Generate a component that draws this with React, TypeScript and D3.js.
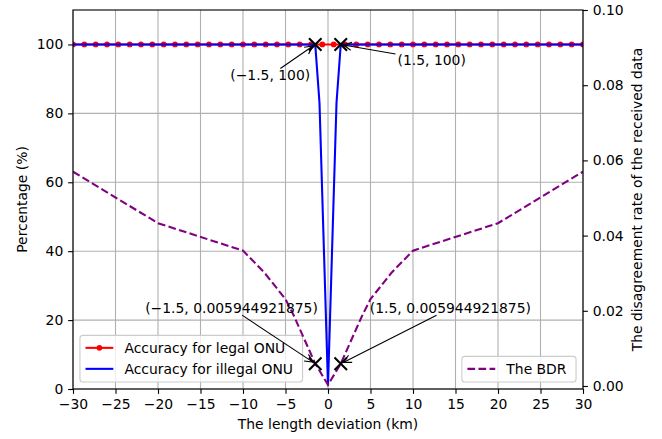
import React, { useEffect, useRef } from 'react';
import * as d3 from 'd3';

// length deviation (km) sampled for the legal ONU curve
const legalX = [
  -30, -28.67, -27.33, -26, -24.67, -23.33, -22, -20.67, -19.33, -18, -16.67, -15.33,
  -14, -12.67, -11.33, -10, -8.67, -7.33, -6, -4.67, -3.33, -2, -0.67, 0.67, 2, 3.33,
  4.67, 6, 7.33, 8.67, 10, 11.33, 12.67, 14, 15.33, 16.67, 18, 19.33, 20.67, 22, 23.33,
  24.67, 26, 27.33, 28.67, 30,
];
const legalAcc = [
  100, 100, 100, 100, 100, 100, 100, 100, 100, 100, 100, 100, 100, 100, 100, 100,
  100, 100, 100, 100, 100, 100, 100, 100, 100, 100, 100, 100, 100, 100, 100, 100,
  100, 100, 100, 100, 100, 100, 100, 100, 100, 100, 100, 100, 100, 100,
];

const illegalX = [-30, -20, -10, -5, -1.5, -1, 0, 1, 1.5, 5, 10, 20, 30];
const illegalAcc = [100, 100, 100, 100, 100, 83, 1, 83, 100, 100, 100, 100, 100];

const bdrX = [-30, -20, -10, -7.5, -5, -4, -1.5, 0, 1.5, 4, 5, 7.5, 10, 20, 30];
const bdrVal = [
  0.057, 0.0433, 0.036, 0.0302, 0.0231, 0.0186, 0.005944921875, 0.0003,
  0.005944921875, 0.0186, 0.0231, 0.0302, 0.036, 0.0433, 0.057,
];

const xTicks = [-30, -25, -20, -15, -10, -5, 0, 5, 10, 15, 20, 25, 30];
const leftTicks = [0, 20, 40, 60, 80, 100];
const rightTicks = [0, 0.02, 0.04, 0.06, 0.08, 0.1];

// annotated points, text position in data units of the same axis
const notes = [
  { x: -1.5, y: 100, tx: -6.8, ty: 91, label: '(−1.5, 100)', axis: 'left' },
  { x: 1.5, y: 100, tx: 12.2, ty: 95.4, label: '(1.5, 100)', axis: 'left' },
  { x: -1.5, y: 0.005944921875, tx: -11.35, ty: 0.0207, label: '(−1.5, 0.005944921875)', axis: 'right' },
  { x: 1.5, y: 0.005944921875, tx: 14.4, ty: 0.0207, label: '(1.5, 0.005944921875)', axis: 'right' },
];

const W = 662;
const H = 439;
const FONT = '"DejaVu Sans", sans-serif';
const FS = 13.9;
const pt = 100 / 72;

const Chart = () => {
  const ref = useRef<SVGSVGElement>(null);

  useEffect(() => {
    document.body.style.margin = '0';
    const svg = d3.select(ref.current);
    svg.selectAll('*').remove();

    const left = 73, right = 583, top = 10, bottom = 389;

    const x = d3.scaleLinear().domain([-30, 30]).range([left, right]);
    const yL = d3.scaleLinear().domain([0, 110]).range([bottom, top]);
    const yR = d3.scaleLinear().domain([-0.0008, 0.1]).range([bottom, top]);

    svg.append('rect').attr('width', W).attr('height', H).attr('fill', '#fff');

    const clipId = 'plot-clip';
    svg.append('clipPath').attr('id', clipId)
      .append('rect').attr('x', left).attr('y', top)
      .attr('width', right - left).attr('height', bottom - top);

    // gridlines
    const grid = svg.append('g').attr('stroke', '#b0b0b0').attr('stroke-width', 0.8 * pt);
    xTicks.forEach((t) => {
      grid.append('line').attr('x1', x(t)).attr('x2', x(t)).attr('y1', top).attr('y2', bottom);
    });
    leftTicks.forEach((t) => {
      grid.append('line').attr('x1', left).attr('x2', right).attr('y1', yL(t)).attr('y2', yL(t));
    });

    const minus = (d: number) => (d < 0 ? '−' + Math.abs(d) : String(d));

    // axes
    const styleAxis = (g: any) => {
      g.select('.domain').remove();
      g.selectAll('line').attr('stroke', '#000').attr('stroke-width', 0.8 * pt);
      g.selectAll('text').attr('font-family', FONT).attr('font-size', FS).attr('fill', '#000');
    };
    svg.append('g').attr('transform', `translate(0,${bottom})`)
      .call(d3.axisBottom(x).tickValues(xTicks).tickSize(3.5 * pt).tickPadding(3.5 * pt).tickFormat((d: any) => minus(d)))
      .call(styleAxis);
    svg.append('g').attr('transform', `translate(${left},0)`)
      .call(d3.axisLeft(yL).tickValues(leftTicks).tickSize(3.5 * pt).tickPadding(3.5 * pt))
      .call(styleAxis);
    svg.append('g').attr('transform', `translate(${right},0)`)
      .call(d3.axisRight(yR).tickValues(rightTicks).tickSize(3.5 * pt).tickPadding(3.5 * pt).tickFormat(d3.format('.2f')))
      .call(styleAxis);

    const plot = svg.append('g').attr('clip-path', `url(#${clipId})`);

    // legal ONU
    const lineL = d3.line<number>().x((d, i) => x(legalX[i])).y((d) => yL(d));
    plot.append('path').datum(legalAcc).attr('d', lineL)
      .attr('fill', 'none').attr('stroke', '#ff0000').attr('stroke-width', 1.5 * pt);
    plot.selectAll('.dot').data(legalAcc).enter().append('circle')
      .attr('cx', (d, i) => x(legalX[i])).attr('cy', (d) => yL(d)).attr('r', 2.9).attr('fill', '#ff0000');

    // illegal ONU
    const lineI = d3.line<number>().x((d, i) => x(illegalX[i])).y((d) => yL(d));
    plot.append('path').datum(illegalAcc).attr('d', lineI)
      .attr('fill', 'none').attr('stroke', '#0000ff').attr('stroke-width', 1.5 * pt);

    const drawX = (g: any, px: number, py: number) => {
      const s = 4.5 * pt;
      g.append('path')
        .attr('d', `M${px - s},${py - s}L${px + s},${py + s}M${px - s},${py + s}L${px + s},${py - s}`)
        .attr('stroke', '#000').attr('stroke-width', 1.5 * pt).attr('fill', 'none');
    };

    const drawNote = (n: any) => {
      const sc = n.axis === 'left' ? yL : yR;
      const px = x(n.x), py = sc(n.y);
      drawX(svg, px, py);
      const tx = x(n.tx), ty = sc(n.ty);
      const txt = svg.append('text').attr('x', tx).attr('y', ty).attr('dy', '0.35em')
        .attr('text-anchor', 'middle').attr('font-family', FONT).attr('font-size', FS)
        .text(n.label);
      const bb = (txt.node() as SVGTextElement).getBBox();
      // start arrow where the line from the text centre leaves its box
      const hw = bb.width / 2 + 2, hh = bb.height / 2 - 1;
      const dx = px - tx, dy = py - ty;
      const k = Math.min(Math.abs(hw / dx), Math.abs(hh / dy));
      const sx = tx + dx * k, sy = ty + dy * k;
      const len = Math.hypot(px - sx, py - sy);
      const ux = (px - sx) / len, uy = (py - sy) / len;
      const ex = px - ux * 2 * pt, ey = py - uy * 2 * pt;
      const g = svg.append('g').attr('stroke', '#000').attr('stroke-width', 1.1).attr('fill', 'none');
      g.append('line').attr('x1', sx).attr('y1', sy).attr('x2', ex).attr('y2', ey);
      const hl = 8, hwid = 4;
      g.append('path').attr('d',
        `M${ex - ux * hl - uy * hwid},${ey - uy * hl + ux * hwid}L${ex},${ey}L${ex - ux * hl + uy * hwid},${ey - uy * hl - ux * hwid}`);
    };

    notes.filter((n) => n.axis === 'left').forEach(drawNote);

    // legend box in a lower corner of the plot
    const legend = (entries: any[], corner: 'left' | 'right') => {
      const g = svg.append('g');
      const rowH = 21;
      const handle = 2 * FS;
      const widths: number[] = [];
      const tmp = svg.append('g');
      entries.forEach((e) => {
        const t = tmp.append('text').attr('font-family', FONT).attr('font-size', FS).text(e.label);
        widths.push((t.node() as SVGTextElement).getComputedTextLength());
      });
      tmp.remove();
      const bw = 3.6 * FS + d3.max(widths)! + 4;
      const bh = entries.length * rowH + 4.7;
      const bx = corner === 'left' ? left + 0.5 * FS : right - 0.5 * FS - bw;
      const by = bottom - 0.5 * FS - bh;
      g.append('rect').attr('x', bx).attr('y', by).attr('width', bw).attr('height', bh)
        .attr('rx', 3).attr('fill', '#fff').attr('fill-opacity', 0.8)
        .attr('stroke', '#cccccc').attr('stroke-width', 1.1);
      entries.forEach((e, i) => {
        const cy = by + 12.5 + i * rowH;
        const hx = bx + 0.4 * FS;
        g.append('line').attr('x1', hx).attr('x2', hx + handle).attr('y1', cy).attr('y2', cy)
          .attr('stroke', e.color).attr('stroke-width', 1.5 * pt)
          .attr('stroke-dasharray', e.dash ? `${3.7 * 1.5 * pt},${1.6 * 1.5 * pt}` : null);
        if (e.dot) g.append('circle').attr('cx', hx + handle / 2).attr('cy', cy).attr('r', 2.9).attr('fill', e.color);
        g.append('text').attr('x', hx + handle + 0.8 * FS).attr('y', cy).attr('dy', '0.35em')
          .attr('font-family', FONT).attr('font-size', FS).text(e.label);
      });
    };

    legend([
      { label: 'Accuracy for legal ONU', color: '#ff0000', dot: true },
      { label: 'Accuracy for illegal ONU', color: '#0000ff' },
    ], 'left');

    // BDR on the twin axis
    const plot2 = svg.append('g').attr('clip-path', `url(#${clipId})`);
    const lineB = d3.line<number>().x((d, i) => x(bdrX[i])).y((d) => yR(d));
    plot2.append('path').datum(bdrVal).attr('d', lineB)
      .attr('fill', 'none').attr('stroke', '#800080').attr('stroke-width', 1.5 * pt)
      .attr('stroke-dasharray', `${3.7 * 1.5 * pt},${1.6 * 1.5 * pt}`);

    notes.filter((n) => n.axis === 'right').forEach(drawNote);

    legend([{ label: 'The BDR', color: '#800080', dash: true }], 'right');

    // frame
    svg.append('rect').attr('x', left).attr('y', top).attr('width', right - left).attr('height', bottom - top)
      .attr('fill', 'none').attr('stroke', '#000').attr('stroke-width', 0.8 * pt);

    // axis labels
    svg.append('text').attr('x', (left + right) / 2).attr('y', 429)
      .attr('text-anchor', 'middle').attr('font-family', FONT).attr('font-size', FS)
      .text('The length deviation (km)');
    svg.append('text').attr('transform', `translate(22,${(top + bottom) / 2}) rotate(-90)`)
      .attr('dy', '0.35em').attr('text-anchor', 'middle').attr('font-family', FONT).attr('font-size', FS)
      .text('Percentage (%)');
    svg.append('text').attr('transform', `translate(637,${(top + bottom) / 2}) rotate(-90)`)
      .attr('dy', '0.35em').attr('text-anchor', 'middle').attr('font-family', FONT).attr('font-size', FS)
      .text('The disagreement rate of the received data');
  }, []);

  return <svg ref={ref} width={W} height={H} style={{ display: 'block' }}></svg>;
};

export default function App() {
  return <Chart />;
}
